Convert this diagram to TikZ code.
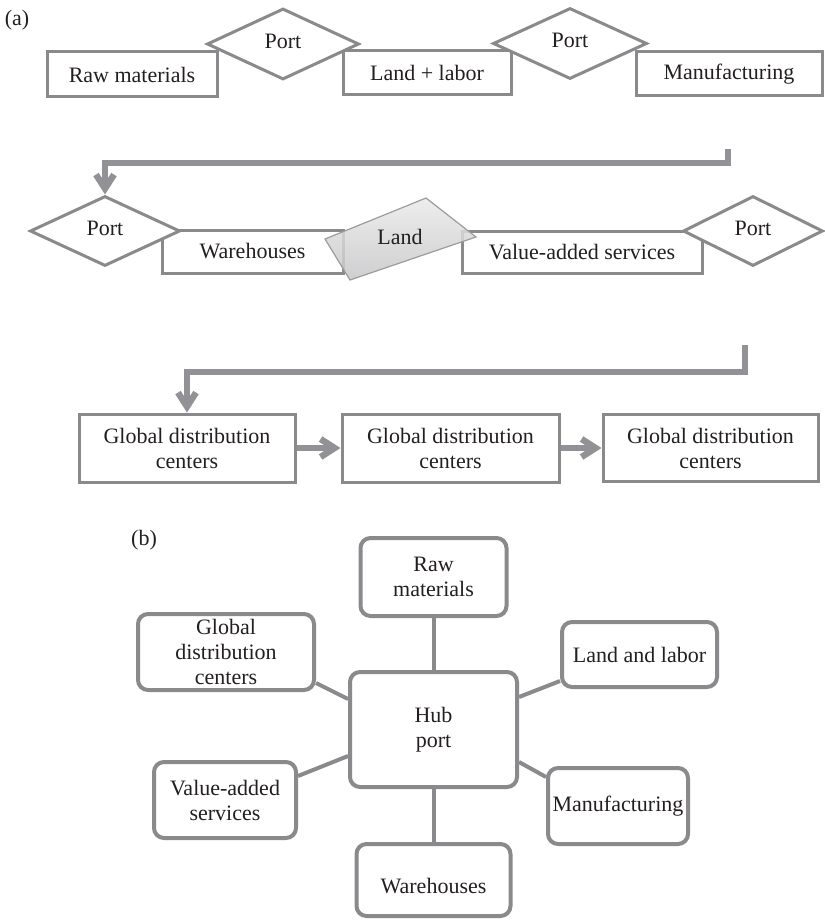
\documentclass[tikz,border=0pt]{standalone}
\usepackage{fontspec}
\setmainfont{Liberation Serif}
\usetikzlibrary{shapes.geometric,arrows.meta,calc}
\definecolor{edgegray}{RGB}{138,138,140}
\definecolor{arrowgray}{RGB}{146,146,150}
\definecolor{inkgray}{RGB}{35,31,32}
\definecolor{landtop}{RGB}{234,234,234}
\definecolor{landbot}{RGB}{198,198,200}

\begin{document}
\begin{tikzpicture}[x=0.5pt,y=-0.5pt,
  every node/.style={text=inkgray, font=\fontsize{11}{12.5}\selectfont},
  flowbox/.style={draw=edgegray, line width=1.5pt, fill=white, rectangle, inner sep=1pt, align=center},
  portshape/.style={draw=edgegray, line width=1.5pt, fill=white, diamond, inner sep=0pt,
    label={[yshift=1.5pt]center:Port}},
  hubbox/.style={draw=edgegray, line width=2pt, fill=white, rectangle, rounded corners=5pt, inner sep=1pt, align=center},
  spoke/.style={draw=edgegray, line width=2pt},
  bigarrow/.style={draw=arrowgray, line width=3.2pt, line join=miter,
    -{Straight Barb[length=7pt,width=9pt]}},
]
\useasboundingbox (0,0) rectangle (824,920);

% ---------------- (a) supply chain in three rows ----------------
\node (tag-a) at (17,20) {(a)};

% row 1
\node[flowbox, minimum width=85pt, minimum height=22.5pt] (raw) at (132,74.5) {Raw materials};
\node[flowbox, minimum width=84pt, minimum height=22pt] (landlabor) at (427,73) {Land + labor};
\node[flowbox, minimum width=93pt, minimum height=22pt] (manuf) at (729,74) {Manufacturing};
\node[portshape, minimum width=76pt, minimum height=35.5pt] (port1) at (283,44) {};
\node[portshape, minimum width=77pt, minimum height=35.5pt] (port2) at (570,43.5) {};

% row 2
\node[flowbox, minimum width=90.5pt, minimum height=21.5pt] (ware) at (252.5,251.5) {Warehouses};
\node[flowbox, minimum width=120pt, minimum height=21pt] (vas) at (582,252) {Value-added services};
\coordinate (landc) at (400,237);
\path[draw=edgegray!85, line width=0.6pt, top color=landtop, bottom color=landbot, fill opacity=0.85]
  ($(landc)+(-75,2)$) -- ($(landc)+(26,-39)$) -- ($(landc)+(76,0)$) -- ($(landc)+(-50,43)$) -- cycle;
\node (land) at (landc) {Land};
\node[portshape, minimum width=75pt, minimum height=35pt] (port3) at (105,231) {};
\node[portshape, minimum width=70pt, minimum height=35pt] (port4) at (753,231) {};

% row 3
\node[flowbox, minimum width=108pt, minimum height=34pt] (gdc1) at (187,448) {Global distribution\\centers};
\node[flowbox, minimum width=108.5pt, minimum height=34pt] (gdc2) at (450.5,448) {Global distribution\\centers};
\node[flowbox, minimum width=107.5pt, minimum height=33.5pt] (gdc3) at (710.5,448) {Global distribution\\centers};

% connectors
\coordinate (turn1) at (728,149);
\draw[bigarrow] (turn1) -- ++(0,14) -| (port3.north);
\coordinate (turn2) at (745,345);
\draw[bigarrow] (turn2) -- ++(0,27) -| (gdc1.north);
\draw[bigarrow] (gdc1.east) -- (gdc2.west);
\draw[bigarrow] (gdc2.east) -- (gdc3.west);

% ---------------- (b) hub port with its spokes ----------------
\node (tag-b) at (144,540) {(b)};

\node[hubbox, minimum width=83.5pt, minimum height=57.5pt] (hub) at (433.5,729.5) {Hub\\port};
\node[hubbox, minimum width=73pt, minimum height=39pt] (rawb) at (433.5,577) {Raw\\materials};
\node[hubbox, minimum width=88pt, minimum height=38pt] (gdcb) at (226,652) {Global\\distribution\\centers};
\node[hubbox, minimum width=77.5pt, minimum height=32.5pt] (llb) at (639.5,654.5) {Land and labor};
\node[hubbox, minimum width=71pt, minimum height=38pt] (vasb) at (225,800) {Value-added\\services};
\node[hubbox, minimum width=70pt, minimum height=38pt, inner sep=0pt] (manb) at (618,806) {Manufacturing};
\node[hubbox, minimum width=77pt, minimum height=36pt,
  label={[yshift=-3pt]center:Warehouses}] (wareb) at (433.5,880) {};

\draw[spoke] (rawb.south) -- (hub.north);
\draw[spoke] (gdcb.east |- 0,683) -- (hub.west |- 0,699);
\draw[spoke] (hub.east |- 0,697) -- (llb.west |- 0,681);
\draw[spoke] (vasb.east |- 0,776) -- (hub.west |- 0,756);
\draw[spoke] (hub.east |- 0,762) -- (manb.west |- 0,777);
\draw[spoke] (hub.south) -- (wareb.north);
\end{tikzpicture}
\end{document}
